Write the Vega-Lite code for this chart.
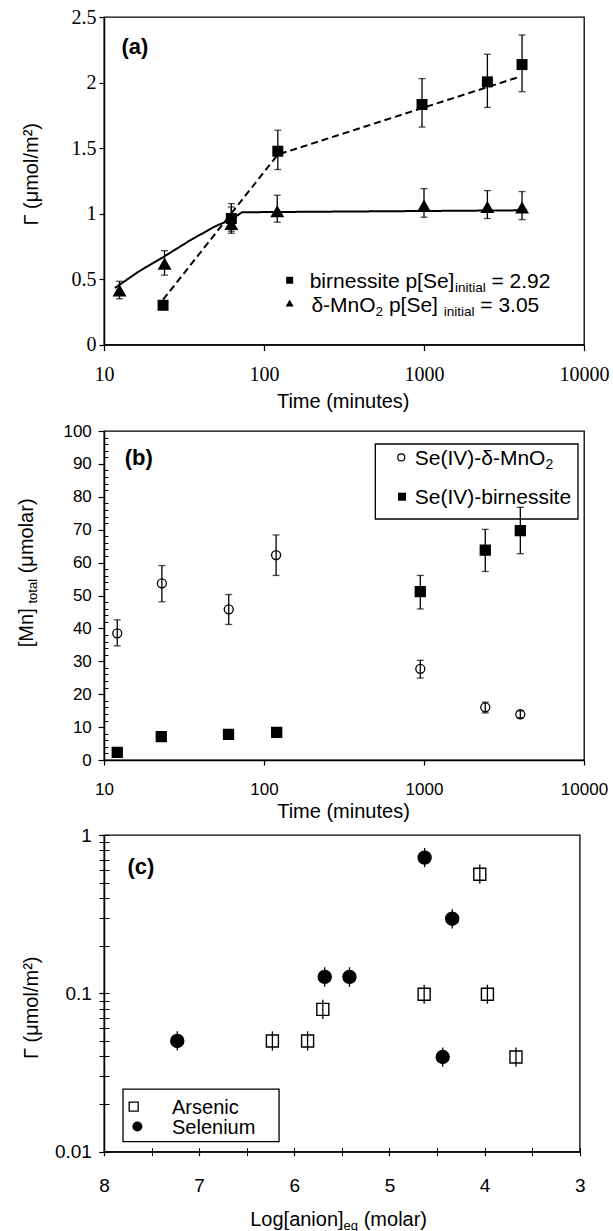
{
  "$schema": "https://vega.github.io/schema/vega-lite/v6.json",
  "background": "white",
  "padding": {"left": 15, "top": 6, "right": 5, "bottom": 5},
  "bounds": "flush",
  "spacing": 86,
  "resolve": {
    "scale": {"shape": "independent", "fill": "independent", "size": "independent", "strokeDash": "independent"},
    "legend": {"shape": "independent", "fill": "independent", "size": "independent", "strokeDash": "independent"}
  },
  "config": {
    "font": "Liberation Sans",
    "view": {"stroke": "black", "strokeWidth": 1.3},
    "axis": {"grid": false, "domainColor": "black", "domainWidth": 1.5, "tickColor": "black", "tickWidth": 1.2, "labelColor": "black", "titleColor": "black", "labelFont": "Liberation Sans", "titleFont": "Liberation Sans", "titleFontWeight": "normal", "titleFontSize": 20, "labelFontSize": 18, "labelFlush": false, "labelOverlap": false},
    "text": {"font": "Liberation Sans", "color": "black", "align": "left", "baseline": "alphabetic"}
  },
  "datasets": {
    "a_pts": [
      {"series": "birnessite", "t": 23.4, "g": 0.30, "lo": 0.27, "hi": 0.33},
      {"series": "birnessite", "t": 62.5, "g": 0.962, "lo": 0.85, "hi": 1.076},
      {"series": "birnessite", "t": 122, "g": 1.476, "lo": 1.336, "hi": 1.636},
      {"series": "birnessite", "t": 972, "g": 1.832, "lo": 1.66, "hi": 2.03},
      {"series": "birnessite", "t": 2490, "g": 2.005, "lo": 1.81, "hi": 2.216},
      {"series": "birnessite", "t": 4100, "g": 2.137, "lo": 1.93, "hi": 2.363},
      {"series": "δ-MnO2", "t": 12.5, "g": 0.414, "lo": 0.35, "hi": 0.483},
      {"series": "δ-MnO2", "t": 23.9, "g": 0.618, "lo": 0.53, "hi": 0.717},
      {"series": "δ-MnO2", "t": 62.5, "g": 0.92, "lo": 0.865, "hi": 1.05},
      {"series": "δ-MnO2", "t": 121, "g": 1.018, "lo": 0.934, "hi": 1.14},
      {"series": "δ-MnO2", "t": 1000, "g": 1.061, "lo": 0.972, "hi": 1.19},
      {"series": "δ-MnO2", "t": 2490, "g": 1.05, "lo": 0.962, "hi": 1.175},
      {"series": "δ-MnO2", "t": 4100, "g": 1.046, "lo": 0.954, "hi": 1.168}
    ],
    "a_fit": [
      {"series": "birnessite", "t": 23.4, "g": 0.343},
      {"series": "birnessite", "t": 122, "g": 1.45},
      {"series": "birnessite", "t": 3870, "g": 2.04},
      {"series": "δ-MnO2", "t": 11.7, "g": 0.432},
      {"series": "δ-MnO2", "t": 16.3, "g": 0.554},
      {"series": "δ-MnO2", "t": 23.9, "g": 0.674},
      {"series": "δ-MnO2", "t": 35, "g": 0.8},
      {"series": "δ-MnO2", "t": 50, "g": 0.905},
      {"series": "δ-MnO2", "t": 62.5, "g": 0.955},
      {"series": "δ-MnO2", "t": 73, "g": 1.01},
      {"series": "δ-MnO2", "t": 4400, "g": 1.025}
    ],
    "b_pts": [
      {"series": "Se(IV)-δ-MnO2", "t": 12.1, "mn": 38.5, "lo": 34.7, "hi": 42.6},
      {"series": "Se(IV)-δ-MnO2", "t": 23.0, "mn": 53.7, "lo": 48.1, "hi": 59.1},
      {"series": "Se(IV)-δ-MnO2", "t": 60.2, "mn": 45.8, "lo": 41.2, "hi": 50.3},
      {"series": "Se(IV)-δ-MnO2", "t": 119, "mn": 62.3, "lo": 56.1, "hi": 68.4},
      {"series": "Se(IV)-δ-MnO2", "t": 948, "mn": 27.7, "lo": 24.9, "hi": 30.3},
      {"series": "Se(IV)-δ-MnO2", "t": 2415, "mn": 16.0, "lo": 14.3, "hi": 17.6},
      {"series": "Se(IV)-δ-MnO2", "t": 4000, "mn": 13.9, "lo": 12.9, "hi": 14.9},
      {"series": "Se(IV)-birnessite", "t": 12.1, "mn": 2.3, "lo": 2.0, "hi": 2.6},
      {"series": "Se(IV)-birnessite", "t": 22.8, "mn": 7.1, "lo": 6.6, "hi": 7.6},
      {"series": "Se(IV)-birnessite", "t": 60.0, "mn": 7.8, "lo": 7.3, "hi": 8.3},
      {"series": "Se(IV)-birnessite", "t": 120, "mn": 8.4, "lo": 7.9, "hi": 8.9},
      {"series": "Se(IV)-birnessite", "t": 948, "mn": 51.2, "lo": 45.9, "hi": 56.1},
      {"series": "Se(IV)-birnessite", "t": 2415, "mn": 63.8, "lo": 57.3, "hi": 70.1},
      {"series": "Se(IV)-birnessite", "t": 4000, "mn": 69.7, "lo": 62.7, "hi": 76.8}
    ],
    "c_pts": [
      {"series": "Selenium", "a": 7.23, "g": 0.05, "lo": 0.0435, "hi": 0.0575},
      {"series": "Selenium", "a": 5.68, "g": 0.127, "lo": 0.110, "hi": 0.146},
      {"series": "Selenium", "a": 5.42, "g": 0.127, "lo": 0.110, "hi": 0.146},
      {"series": "Selenium", "a": 4.63, "g": 0.72, "lo": 0.626, "hi": 0.828},
      {"series": "Selenium", "a": 4.34, "g": 0.296, "lo": 0.257, "hi": 0.340},
      {"series": "Selenium", "a": 4.44, "g": 0.0396, "lo": 0.0344, "hi": 0.0455},
      {"series": "Arsenic", "a": 6.23, "g": 0.05, "lo": 0.0435, "hi": 0.0575},
      {"series": "Arsenic", "a": 5.86, "g": 0.05, "lo": 0.0435, "hi": 0.0575},
      {"series": "Arsenic", "a": 5.70, "g": 0.0792, "lo": 0.0689, "hi": 0.0911},
      {"series": "Arsenic", "a": 4.635, "g": 0.0986, "lo": 0.0858, "hi": 0.1134},
      {"series": "Arsenic", "a": 4.05, "g": 0.565, "lo": 0.492, "hi": 0.650},
      {"series": "Arsenic", "a": 3.97, "g": 0.0986, "lo": 0.0858, "hi": 0.1134},
      {"series": "Arsenic", "a": 3.67, "g": 0.0396, "lo": 0.0344, "hi": 0.0455}
    ]
  },
  "vconcat": [
    {
      "width": 480,
      "height": 327.6,
      "layer": [
        {
          "data": {"name": "a_fit"},
          "mark": {"type": "line", "color": "black", "strokeWidth": 2},
          "encoding": {
            "x": {"field": "t", "type": "quantitative", "scale": {"type": "log", "domain": [10, 10000]}, "axis": null},
            "y": {"field": "g", "type": "quantitative", "scale": {"domain": [0, 2.5], "nice": false}, "axis": null},
            "strokeDash": {"field": "series", "type": "nominal", "scale": {"domain": ["birnessite", "δ-MnO2"], "range": [[7, 4], [1, 0]]}, "legend": null}
          }
        },
        {
          "data": {"name": "a_pts"},
          "mark": {"type": "errorbar", "ticks": {"size": 7, "thickness": 1.3, "color": "black"}, "rule": {"strokeWidth": 1.3, "color": "black"}},
          "encoding": {
            "x": {"field": "t", "type": "quantitative", "scale": {"type": "log", "domain": [10, 10000]}, "axis": null},
            "y": {"field": "lo", "type": "quantitative", "scale": {"domain": [0, 2.5], "nice": false}, "axis": null},
            "y2": {"field": "hi"}
          }
        },
        {
          "data": {"name": "a_pts"},
          "mark": {"type": "point", "filled": true, "color": "black", "opacity": 1},
          "encoding": {
            "x": {"field": "t", "type": "quantitative", "scale": {"type": "log", "domain": [10, 10000]},
              "axis": {"orient": "bottom", "values": [10, 100, 1000, 10000], "format": "d", "labelFont": "Liberation Serif", "labelFontSize": 20, "tickSize": 6, "labelPadding": 14, "title": "Time (minutes)", "titleX": 238.7, "titleY": 62.7, "titleAlign": "center", "titleBaseline": "alphabetic"}},
            "y": {"field": "g", "type": "quantitative", "scale": {"domain": [0, 2.5], "nice": false},
              "axis": {"orient": "left", "values": [0, 0.5, 1, 1.5, 2, 2.5], "format": "~g", "labelFont": "Liberation Serif", "labelFontSize": 20, "tickSize": 5, "labelPadding": 3, "title": "Γ (μmol/m²)", "titleAngle": 270, "titleX": -66.8, "titleY": 156.8, "titleAlign": "center", "titleBaseline": "alphabetic"}},
            "shape": {"field": "series", "type": "nominal", "scale": {"domain": ["birnessite", "δ-MnO2"], "range": ["square", "triangle-up"]}, "legend": null},
            "size": {"field": "series", "type": "nominal", "scale": {"domain": ["birnessite", "δ-MnO2"], "range": [121, 196]}, "legend": null}
          }
        },
        {
          "data": {"values": [{}]},
          "mark": {"type": "text", "text": "(a)", "baseline": "middle", "fontSize": 22, "fontWeight": "bold"},
          "encoding": {
            "x": {"datum": 12.85, "type": "quantitative", "scale": {"type": "log", "domain": [10, 10000]}, "axis": null},
            "y": {"datum": 2.27, "type": "quantitative", "scale": {"domain": [0, 2.5], "nice": false}, "axis": null}
          }
        },
        {
          "data": {"values": [{}]},
          "mark": {"type": "point", "shape": "square", "filled": true, "color": "black", "opacity": 1, "size": 49},
          "encoding": {
            "x": {"datum": 144.7, "type": "quantitative", "scale": {"type": "log", "domain": [10, 10000]}, "axis": null},
            "y": {"datum": 0.4908, "type": "quantitative", "scale": {"domain": [0, 2.5], "nice": false}, "axis": null}
          }
        },
        {
          "data": {"values": [{}]},
          "mark": {"type": "point", "shape": "triangle-up", "filled": true, "color": "black", "opacity": 1, "size": 64},
          "encoding": {
            "x": {"datum": 144.7, "type": "quantitative", "scale": {"type": "log", "domain": [10, 10000]}, "axis": null},
            "y": {"datum": 0.3176, "type": "quantitative", "scale": {"domain": [0, 2.5], "nice": false}, "axis": null}
          }
        },
        {
          "data": {"values": [{}]},
          "mark": {"type": "text", "text": "birnessite p[Se]", "fontSize": 21},
          "encoding": {
            "x": {"datum": 193.0, "type": "quantitative", "scale": {"type": "log", "domain": [10, 10000]}, "axis": null},
            "y": {"datum": 0.4336, "type": "quantitative", "scale": {"domain": [0, 2.5], "nice": false}, "axis": null}
          }
        },
        {
          "data": {"values": [{}]},
          "mark": {"type": "text", "text": "initial", "fontSize": 13.5},
          "encoding": {
            "x": {"datum": 1560, "type": "quantitative", "scale": {"type": "log", "domain": [10, 10000]}, "axis": null},
            "y": {"datum": 0.3992, "type": "quantitative", "scale": {"domain": [0, 2.5], "nice": false}, "axis": null}
          }
        },
        {
          "data": {"values": [{}]},
          "mark": {"type": "text", "text": "= 2.92", "fontSize": 21},
          "encoding": {
            "x": {"datum": 2642, "type": "quantitative", "scale": {"type": "log", "domain": [10, 10000]}, "axis": null},
            "y": {"datum": 0.4336, "type": "quantitative", "scale": {"domain": [0, 2.5], "nice": false}, "axis": null}
          }
        },
        {
          "data": {"values": [{}]},
          "mark": {"type": "text", "text": "δ-MnO", "fontSize": 21},
          "encoding": {
            "x": {"datum": 197.8, "type": "quantitative", "scale": {"type": "log", "domain": [10, 10000]}, "axis": null},
            "y": {"datum": 0.2504, "type": "quantitative", "scale": {"domain": [0, 2.5], "nice": false}, "axis": null}
          }
        },
        {
          "data": {"values": [{}]},
          "mark": {"type": "text", "text": "2", "fontSize": 13.5},
          "encoding": {
            "x": {"datum": 498.3, "type": "quantitative", "scale": {"type": "log", "domain": [10, 10000]}, "axis": null},
            "y": {"datum": 0.216, "type": "quantitative", "scale": {"domain": [0, 2.5], "nice": false}, "axis": null}
          }
        },
        {
          "data": {"values": [{}]},
          "mark": {"type": "text", "text": "p[Se]", "fontSize": 21},
          "encoding": {
            "x": {"datum": 603.5, "type": "quantitative", "scale": {"type": "log", "domain": [10, 10000]}, "axis": null},
            "y": {"datum": 0.2504, "type": "quantitative", "scale": {"domain": [0, 2.5], "nice": false}, "axis": null}
          }
        },
        {
          "data": {"values": [{}]},
          "mark": {"type": "text", "text": "initial", "fontSize": 13.5},
          "encoding": {
            "x": {"datum": 1328, "type": "quantitative", "scale": {"type": "log", "domain": [10, 10000]}, "axis": null},
            "y": {"datum": 0.216, "type": "quantitative", "scale": {"domain": [0, 2.5], "nice": false}, "axis": null}
          }
        },
        {
          "data": {"values": [{}]},
          "mark": {"type": "text", "text": "= 3.05", "fontSize": 21},
          "encoding": {
            "x": {"datum": 2248, "type": "quantitative", "scale": {"type": "log", "domain": [10, 10000]}, "axis": null},
            "y": {"datum": 0.2504, "type": "quantitative", "scale": {"domain": [0, 2.5], "nice": false}, "axis": null}
          }
        }
      ],
      "resolve": {"axis": {"x": "independent", "y": "independent"}}
    },
    {
      "bounds": "flush",
      "spacing": 75,
      "resolve": {
        "scale": {"shape": "independent", "fill": "independent", "size": "independent"},
        "legend": {"shape": "independent", "fill": "independent", "size": "independent"}
      },
      "vconcat": [
        {
          "width": 480,
          "height": 329,
          "layer": [
            {
              "data": {"values": [{}]},
              "mark": {"type": "rect", "fill": "white", "stroke": "black", "strokeWidth": 1.3},
              "encoding": {
                "x": {"datum": 496.3, "type": "quantitative", "scale": {"type": "log", "domain": [10, 10000]}, "axis": null},
                "x2": {"datum": 9173},
                "y": {"datum": 96.05, "type": "quantitative", "scale": {"domain": [0, 100], "nice": false}, "axis": null},
                "y2": {"datum": 73.25}
              }
            },
            {
              "data": {"name": "b_pts"},
              "mark": {"type": "errorbar", "ticks": {"size": 7, "thickness": 1.3, "color": "black"}, "rule": {"strokeWidth": 1.3, "color": "black"}},
              "encoding": {
                "x": {"field": "t", "type": "quantitative", "scale": {"type": "log", "domain": [10, 10000]}, "axis": null},
                "y": {"field": "lo", "type": "quantitative", "scale": {"domain": [0, 100], "nice": false},
                  "axis": {"orient": "left", "values": [2, 4, 6, 8, 12, 14, 16, 18, 22, 24, 26, 28, 32, 34, 36, 38, 42, 44, 46, 48, 52, 54, 56, 58, 62, 64, 66, 68, 72, 74, 76, 78, 82, 84, 86, 88, 92, 94, 96, 98], "offset": -4, "tickSize": 4, "tickWidth": 1, "labels": false, "domain": false, "title": null}},
                "y2": {"field": "hi"}
              }
            },
            {
              "data": {"name": "b_pts"},
              "mark": {"type": "point", "stroke": "black", "strokeWidth": 1.3, "opacity": 1},
              "encoding": {
                "x": {"field": "t", "type": "quantitative", "scale": {"type": "log", "domain": [10, 10000]},
                  "axis": {"orient": "bottom", "values": [10, 100, 1000, 10000], "format": "d", "tickSize": 5, "labelPadding": 16.7, "labelFontSize": 17, "title": "Time (minutes)", "titleX": 239, "titleY": 57, "titleAlign": "center", "titleBaseline": "alphabetic"}},
                "y": {"field": "mn", "type": "quantitative", "scale": {"domain": [0, 100], "nice": false},
                  "axis": {"orient": "left", "values": [0, 10, 20, 30, 40, 50, 60, 70, 80, 90, 100], "format": "d", "tickSize": 6, "labelPadding": 6.7, "labelFontSize": 17, "title": "[Mn]", "titleAngle": 270, "titleAlign": "left", "titleBaseline": "alphabetic", "titleX": -72, "titleY": 215.7}},
                "shape": {"field": "series", "type": "nominal", "scale": {"domain": ["Se(IV)-δ-MnO2", "Se(IV)-birnessite"], "range": ["circle", "square"]}, "legend": null},
                "fill": {"field": "series", "type": "nominal", "scale": {"domain": ["Se(IV)-δ-MnO2", "Se(IV)-birnessite"], "range": ["transparent", "black"]}, "legend": null},
                "size": {"field": "series", "type": "nominal", "scale": {"domain": ["Se(IV)-δ-MnO2", "Se(IV)-birnessite"], "range": [81, 100]}, "legend": null}
              }
            },
            {
              "data": {"values": [{}]},
              "mark": {"type": "text", "text": "(b)", "baseline": "middle", "fontSize": 22, "fontWeight": "bold"},
              "encoding": {
                "x": {"datum": 13.46, "type": "quantitative", "scale": {"type": "log", "domain": [10, 10000]}, "axis": null},
                "y": {"datum": 91.7, "type": "quantitative", "scale": {"domain": [0, 100], "nice": false},
                  "axis": {"orient": "left", "labels": false, "ticks": false, "domain": false, "title": "total", "titleFontSize": 13, "titleAngle": 270, "titleAlign": "left", "titleBaseline": "alphabetic", "titleX": -67.5, "titleY": 172}}
              }
            },
            {
              "data": {"values": [{}]},
              "mark": {"type": "point", "shape": "circle", "filled": false, "stroke": "black", "strokeWidth": 1.2, "opacity": 1, "size": 49},
              "encoding": {
                "x": {"datum": 721.3, "type": "quantitative", "scale": {"type": "log", "domain": [10, 10000]}, "axis": null},
                "y": {"datum": 91.98, "type": "quantitative", "scale": {"domain": [0, 100], "nice": false},
                  "axis": {"orient": "left", "labels": false, "ticks": false, "domain": false, "title": "(μmolar)", "titleAngle": 270, "titleAlign": "left", "titleBaseline": "alphabetic", "titleX": -72, "titleY": 141.8}}
              }
            },
            {
              "data": {"values": [{}]},
              "mark": {"type": "point", "shape": "square", "filled": true, "color": "black", "opacity": 1, "size": 64},
              "encoding": {
                "x": {"datum": 728.7, "type": "quantitative", "scale": {"type": "log", "domain": [10, 10000]}, "axis": null},
                "y": {"datum": 80.03, "type": "quantitative", "scale": {"domain": [0, 100], "nice": false}, "axis": null}
              }
            },
            {
              "data": {"values": [{}]},
              "mark": {"type": "text", "text": "Se(IV)-δ-MnO", "fontSize": 21},
              "encoding": {
                "x": {"datum": 874.8, "type": "quantitative", "scale": {"type": "log", "domain": [10, 10000]}, "axis": null},
                "y": {"datum": 89.7, "type": "quantitative", "scale": {"domain": [0, 100], "nice": false}, "axis": null}
              }
            },
            {
              "data": {"values": [{}]},
              "mark": {"type": "text", "text": "2", "fontSize": 14},
              "encoding": {
                "x": {"datum": 5740, "type": "quantitative", "scale": {"type": "log", "domain": [10, 10000]}, "axis": null},
                "y": {"datum": 88.33, "type": "quantitative", "scale": {"domain": [0, 100], "nice": false}, "axis": null}
              }
            },
            {
              "data": {"values": [{}]},
              "mark": {"type": "text", "text": "Se(IV)-birnessite", "fontSize": 21},
              "encoding": {
                "x": {"datum": 874.8, "type": "quantitative", "scale": {"type": "log", "domain": [10, 10000]}, "axis": null},
                "y": {"datum": 77.75, "type": "quantitative", "scale": {"domain": [0, 100], "nice": false}, "axis": null}
              }
            }
          ],
          "resolve": {"axis": {"x": "independent", "y": "independent"}}
        },
        {
          "width": 475.7,
          "height": 316.6,
          "layer": [
            {
              "data": {"values": [{}]},
              "mark": {"type": "rect", "fill": "white", "stroke": "black", "strokeWidth": 1.3},
              "encoding": {
                "x": {"datum": 7.80, "type": "quantitative", "scale": {"domain": [3, 8], "reverse": true, "nice": false}, "axis": null},
                "x2": {"datum": 6.16},
                "y": {"datum": 0.02478, "type": "quantitative", "scale": {"type": "log", "domain": [0.01, 1]}, "axis": null},
                "y2": {"datum": 0.01157}
              }
            },
            {
              "data": {"name": "c_pts"},
              "mark": {"type": "errorbar", "rule": {"strokeWidth": 1.3, "color": "black"}},
              "encoding": {
                "x": {"field": "a", "type": "quantitative", "scale": {"domain": [3, 8], "reverse": true, "nice": false},
                  "axis": {"orient": "bottom", "values": [3, 3.5, 4, 4.5, 5, 5.5, 6, 6.5, 7, 7.5, 8], "offset": -4, "tickSize": 8, "tickWidth": 1, "labels": false, "domain": false, "title": null}},
                "y": {"field": "lo", "type": "quantitative", "scale": {"type": "log", "domain": [0.01, 1]},
                  "axis": {"orient": "left", "values": [0.01, 0.02, 0.03, 0.04, 0.05, 0.06, 0.07, 0.08, 0.09, 0.1, 0.2, 0.3, 0.4, 0.5, 0.6, 0.7, 0.8, 0.9, 1], "offset": -5, "tickSize": 10, "tickWidth": 1, "labels": false, "domain": false, "title": null}},
                "y2": {"field": "hi"}
              }
            },
            {
              "data": {"name": "c_pts"},
              "mark": {"type": "point", "stroke": "black", "strokeWidth": 1.4, "opacity": 1},
              "encoding": {
                "x": {"field": "a", "type": "quantitative", "scale": {"domain": [3, 8], "reverse": true, "nice": false},
                  "axis": {"orient": "bottom", "values": [3, 4, 5, 6, 7, 8], "format": "d", "tickSize": 4, "labelPadding": 20.4, "labelFontSize": 19, "title": "Log[anion]", "titleX": 145.7, "titleY": 73.7, "titleAlign": "left", "titleBaseline": "alphabetic"}},
                "y": {"field": "g", "type": "quantitative", "scale": {"type": "log", "domain": [0.01, 1]},
                  "axis": {"orient": "left", "values": [0.01, 0.1, 1], "format": "~g", "tickSize": 5, "labelPadding": 7.6, "labelFontSize": 19, "title": "Γ (μmol/m²)", "titleAngle": 270, "titleX": -66.8, "titleY": 172.3, "titleAlign": "center", "titleBaseline": "alphabetic"}},
                "shape": {"field": "series", "type": "nominal", "scale": {"domain": ["Arsenic", "Selenium"], "range": ["square", "circle"]}, "legend": null},
                "fill": {"field": "series", "type": "nominal", "scale": {"domain": ["Arsenic", "Selenium"], "range": ["transparent", "black"]}, "legend": null},
                "size": {"field": "series", "type": "nominal", "scale": {"domain": ["Arsenic", "Selenium"], "range": [144, 169]}, "legend": null}
              }
            },
            {
              "data": {"values": [{}]},
              "mark": {"type": "text", "text": "(c)", "baseline": "middle", "fontSize": 22, "fontWeight": "bold"},
              "encoding": {
                "x": {"datum": 7.754, "type": "quantitative", "scale": {"domain": [3, 8], "reverse": true, "nice": false},
                  "axis": {"orient": "bottom", "labels": false, "ticks": false, "domain": false, "title": "eq", "titleFontSize": 13, "titleX": 239.1, "titleY": 78, "titleAlign": "left", "titleBaseline": "alphabetic"}},
                "y": {"datum": 0.625, "type": "quantitative", "scale": {"type": "log", "domain": [0.01, 1]}, "axis": null}
              }
            },
            {
              "data": {"values": [{}]},
              "mark": {"type": "point", "shape": "square", "filled": false, "stroke": "black", "strokeWidth": 1.3, "opacity": 1, "size": 81},
              "encoding": {
                "x": {"datum": 7.688, "type": "quantitative", "scale": {"domain": [3, 8], "reverse": true, "nice": false},
                  "axis": {"orient": "bottom", "labels": false, "ticks": false, "domain": false, "title": "(molar)", "titleX": 259.2, "titleY": 73.7, "titleAlign": "left", "titleBaseline": "alphabetic"}},
                "y": {"datum": 0.01924, "type": "quantitative", "scale": {"type": "log", "domain": [0.01, 1]}, "axis": null}
              }
            },
            {
              "data": {"values": [{}]},
              "mark": {"type": "point", "shape": "circle", "filled": true, "color": "black", "opacity": 1, "size": 100},
              "encoding": {
                "x": {"datum": 7.649, "type": "quantitative", "scale": {"domain": [3, 8], "reverse": true, "nice": false}, "axis": null},
                "y": {"datum": 0.01439, "type": "quantitative", "scale": {"type": "log", "domain": [0.01, 1]}, "axis": null}
              }
            },
            {
              "data": {"values": [{}]},
              "mark": {"type": "text", "text": ["Arsenic", "Selenium"], "fontSize": 20, "lineHeight": 20},
              "encoding": {
                "x": {"datum": 7.285, "type": "quantitative", "scale": {"domain": [3, 8], "reverse": true, "nice": false}, "axis": null},
                "y": {"datum": 0.01738, "type": "quantitative", "scale": {"type": "log", "domain": [0.01, 1]}, "axis": null}
              }
            }
          ],
          "resolve": {"axis": {"x": "independent", "y": "independent"}}
        }
      ]
    }
  ]
}
